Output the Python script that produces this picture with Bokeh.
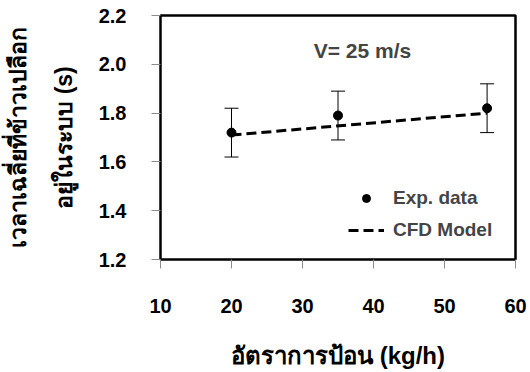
from bokeh.plotting import figure
from bokeh.models import (Range1d, Whisker, ColumnDataSource, Label, FixedTicker, TeeHead,
                          Legend, LegendItem, CustomJSTickFormatter)
from bokeh.embed import file_html
from bokeh.resources import INLINE

feed_rate = [20, 35, 56]
exp_time = [1.72, 1.79, 1.82]
exp_err = [0.10, 0.10, 0.10]
cfd_x = [20, 56]
cfd_y = [1.71, 1.80]
x_ticks = [10, 20, 30, 40, 50, 60]
y_ticks = [1.2, 1.4, 1.6, 1.8, 2.0, 2.2]

FONT = "Liberation Sans"

p = figure(width=530, height=372, output_backend="svg", toolbar_location=None,
           x_range=Range1d(10, 60), y_range=Range1d(1.2, 2.2),
           min_border_left=160, min_border_right=15, min_border_top=15, min_border_bottom=113)
p.grid.visible = False
p.outline_line_color = "black"
p.outline_line_width = 2.5
p.background_fill_color = "white"
p.border_fill_color = "white"

p.xaxis.ticker = FixedTicker(ticks=x_ticks)
p.yaxis.ticker = FixedTicker(ticks=y_ticks)
p.yaxis.formatter = CustomJSTickFormatter(code="return tick.toFixed(1);")
for ax in (p.xaxis, p.yaxis):
    ax.axis_line_color = None
    ax.major_tick_line_color = "#8c8c8c"
    ax.major_tick_line_width = 1
    ax.major_tick_in = 0
    ax.major_tick_out = 9
    ax.minor_tick_line_color = None
    ax.major_label_text_font = FONT
    ax.major_label_text_font_style = "bold"
    ax.major_label_text_font_size = "20px"
    ax.major_label_text_color = "black"
    ax.axis_label_text_font = FONT
    ax.axis_label_text_font_style = "bold"
    ax.axis_label_text_font_size = "23px"
    ax.axis_label_text_color = "black"

p.xaxis.major_label_standoff = 30
p.xaxis.axis_label = "อัตราการป้อน (kg/h)"
p.xaxis.axis_label_text_font_size = "24px"
p.xaxis.axis_label_standoff = 26
p.yaxis.major_label_standoff = 25
p.yaxis.axis_label = "เวลาเฉลี่ยที่ข้าวเปลือก\nอยู่ในระบบ (s)"
p.yaxis.axis_label_text_line_height = 1.75
p.yaxis.axis_label_standoff = 19

src = ColumnDataSource(dict(x=feed_rate, y=exp_time,
                            lo=[v - e for v, e in zip(exp_time, exp_err)],
                            hi=[v + e for v, e in zip(exp_time, exp_err)]))
w = Whisker(source=src, base="x", lower="lo", upper="hi", line_color="black", line_width=1,
            upper_head=TeeHead(size=14, line_color="black", line_width=1),
            lower_head=TeeHead(size=14, line_color="black", line_width=1))
p.add_layout(w)

cfd = p.line(cfd_x, cfd_y, line_color="black", line_width=3, line_dash="10 5")
pts = p.scatter("x", "y", source=src, size=9, color="black")

legend = Legend(items=[LegendItem(label="Exp. data", renderers=[pts]),
                       LegendItem(label="CFD Model", renderers=[cfd])],
                location=(188, 18), border_line_color=None, background_fill_alpha=0,
                glyph_width=36, glyph_height=20, label_height=20, label_standoff=9,
                label_text_font=FONT, label_text_font_style="bold",
                label_text_font_size="19px", spacing=10, padding=0, margin=0)
p.add_layout(legend, "center")

p.add_layout(Label(x=202, y=209, x_units="screen", y_units="screen",
                   text="V= 25 m/s", text_font=FONT, text_font_style="bold",
                   text_font_size="21px", text_align="center", text_baseline="middle"))

open("out.html", "w").write(file_html(p, INLINE))
